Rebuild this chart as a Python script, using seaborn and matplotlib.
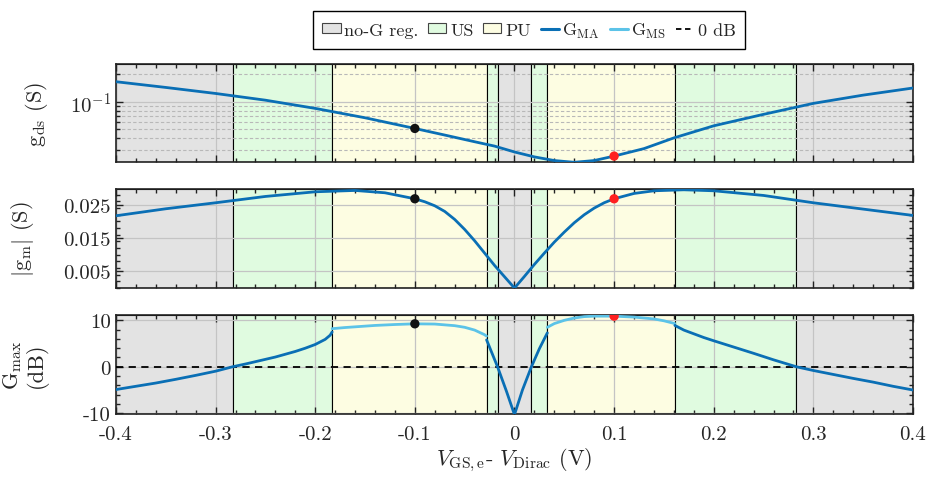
import numpy as np
import matplotlib
matplotlib.use("Agg")
import matplotlib.pyplot as plt
import seaborn as sns
from matplotlib.patches import Patch
from matplotlib.lines import Line2D
from matplotlib.ticker import MultipleLocator, LogLocator, NullFormatter

# Bias axis limits and region boundaries (V)
v_lim = [-0.4, 0.4]
region_edges = [-0.4, -0.283, -0.183, -0.028, -0.017, 0.017, 0.033, 0.161, 0.283, 0.4]
region_kind = ["no-G", "US", "PU", "US", "no-G", "US", "PU", "US", "no-G"]

# g_ds (S), log scale
v_gds = [-0.40, -0.35, -0.30, -0.25, -0.20, -0.15, -0.10, -0.07, -0.04, -0.02, 0.00,
         0.02, 0.04, 0.06, 0.08, 0.10, 0.13, 0.16, 0.20, 0.25, 0.30, 0.35, 0.40]
gds = [0.165, 0.143, 0.123, 0.104, 0.0847, 0.067, 0.0513, 0.0435, 0.0368, 0.0330, 0.0285,
       0.0252, 0.0230, 0.0220, 0.0230, 0.0257, 0.0310, 0.0405, 0.0548, 0.073, 0.096, 0.118, 0.141]

# |g_m| (S)
v_gm = [-0.40, -0.35, -0.30, -0.25, -0.20, -0.16, -0.13, -0.10, -0.09, -0.08, -0.07, -0.06, -0.05,
        -0.04, -0.03, -0.02, -0.01, 0.00, 0.01, 0.02, 0.03, 0.04, 0.05, 0.06, 0.07, 0.08, 0.09,
        0.10, 0.12, 0.14, 0.17, 0.20, 0.25, 0.30, 0.35, 0.40]
gm = [0.0217, 0.0238, 0.0256, 0.0275, 0.0289, 0.0293, 0.0286, 0.0268, 0.0259, 0.0247, 0.0230,
      0.0206, 0.0176, 0.0142, 0.0105, 0.0068, 0.0034, 0.0, 0.0035, 0.0071, 0.0105, 0.0138,
      0.0168, 0.0196, 0.0220, 0.0240, 0.0256, 0.0268, 0.0284, 0.0292, 0.0295, 0.0292, 0.0278,
      0.0256, 0.0237, 0.0218]

# G_max (dB), split into G_MA and G_MS segments
v_ma_left = [-0.40, -0.38, -0.36, -0.34, -0.32, -0.30, -0.283, -0.27, -0.26, -0.25, -0.24,
             -0.23, -0.22, -0.21, -0.20, -0.19, -0.185, -0.183]
g_ma_left = [-4.9, -4.2, -3.5, -2.7, -1.85, -0.95, 0.0, 0.6, 1.1, 1.6, 2.1,
             2.7, 3.3, 4.0, 4.8, 5.9, 6.8, 7.5]
v_ms_left = [-0.183, -0.17, -0.16, -0.14, -0.12, -0.10, -0.08, -0.06, -0.05, -0.04, -0.035, -0.03, -0.028]
g_ms_left = [8.2, 8.45, 8.6, 8.9, 9.1, 9.25, 9.2, 8.85, 8.5, 7.9, 7.4, 6.9, 6.6]
v_ma_mid = [-0.028, -0.017, -0.008, 0.0, 0.008, 0.017, 0.025, 0.033]
g_ma_mid = [5.8, 0.0, -5.3, -10.3, -5.0, 0.0, 3.9, 7.3]
v_ms_mid = [0.033, 0.04, 0.05, 0.06, 0.07, 0.08, 0.10, 0.12, 0.14, 0.15, 0.161]
g_ms_mid = [8.5, 9.3, 10.0, 10.5, 10.8, 10.9, 10.9, 10.7, 10.3, 9.9, 9.3]
v_ma_right = [0.161, 0.17, 0.18, 0.19, 0.20, 0.22, 0.24, 0.26, 0.283, 0.30, 0.32, 0.34, 0.36, 0.38, 0.40]
g_ma_right = [8.9, 7.9, 7.1, 6.3, 5.6, 4.25, 2.9, 1.5, 0.0, -0.8, -1.65, -2.5, -3.3, -4.2, -5.0]

# operating points
dot_v = [-0.10, 0.10]
dot_colors = ["#111111", "#ff2020"]

xtick_vals = [-0.4, -0.3, -0.2, -0.1, 0.0, 0.1, 0.2, 0.3, 0.4]
xtick_labels = ["-0.4", "-0.3", "-0.2", "-0.1", "0", "0.1", "0.2", "0.3", "0.4"]
gm_ticks = [0.005, 0.015, 0.025]
gm_tick_labels = ["0.005", "0.015", "0.025"]
gmax_ticks = [-10, 0, 10]
gmax_tick_labels = ["-10", "0", "10"]

region_colors = {"no-G": "#e3e3e3", "US": "#e0fbe0", "PU": "#fdfde2"}
c_ma = "#0a6fb5"
c_ms = "#5cc3e8"

sns.set_style("ticks")
plt.rcParams.update({
    "font.family": "serif",
    "font.serif": ["cmr10"],
    "mathtext.fontset": "cm",
    "axes.unicode_minus": False,
    "axes.formatter.use_mathtext": True,
})

fig = plt.figure(figsize=(9.3, 4.85), dpi=100)
ax1 = fig.add_axes([0.1247, 0.664, 0.857, 0.202])
ax2 = fig.add_axes([0.1247, 0.404, 0.857, 0.204])
ax3 = fig.add_axes([0.1247, 0.144, 0.857, 0.204])


def shade(ax):
    for i, kind in enumerate(region_kind):
        ax.axvspan(region_edges[i], region_edges[i + 1], facecolor=region_colors[kind],
                   edgecolor="black", lw=0.8, zorder=0.5)


def style(ax):
    ax.set_xlim(v_lim)
    ax.set_xticks(xtick_vals)
    ax.xaxis.set_minor_locator(MultipleLocator(0.02))
    ax.set_axisbelow("line")
    ax.grid(True, which="major", color="#c4c4c4", lw=0.9)
    ax.tick_params(direction="in", which="both", top=True, right=True, labelsize=15,
                   width=1.0, color="#222222")
    ax.tick_params(which="major", length=5)
    ax.tick_params(which="minor", length=3)
    ax.tick_params(axis="x", which="major", pad=8)
    for s in ax.spines.values():
        s.set_linewidth(1.2)
        s.set_color("#222222")


def line(ax, x, y, color):
    sns.lineplot(x=x, y=y, ax=ax, color=color, lw=2.0, zorder=3, sort=False)


# top: g_ds
ax1.set_yscale("log")
shade(ax1)
line(ax1, v_gds, gds, c_ma)
style(ax1)
ax1.set_ylim(0.0222, 0.257)
ax1.yaxis.set_major_locator(LogLocator(base=10))
ax1.yaxis.set_minor_locator(LogLocator(base=10, subs=np.arange(2, 10)))
ax1.yaxis.set_minor_formatter(NullFormatter())
ax1.grid(True, which="minor", axis="y", color="#b8b8b8", lw=0.8, ls=(0, (3, 2)))
ax1.set_xticklabels([])
ax1.set_ylabel(r"$\mathrm{g}_{\mathrm{ds}}$ (S)", fontsize=16)
ax1.yaxis.set_label_coords(-0.083, 0.5)
for v, c in zip(dot_v, dot_colors):
    sns.scatterplot(x=[v], y=[gds[v_gds.index(v)]], ax=ax1, color=c, s=45, zorder=5, edgecolor="none")

# middle: |g_m|
shade(ax2)
line(ax2, v_gm, gm, c_ma)
style(ax2)
ax2.set_ylim(0.0, 0.0297)
ax2.set_yticks(gm_ticks)
ax2.set_yticklabels(gm_tick_labels)
ax2.yaxis.set_minor_locator(MultipleLocator(0.002))
ax2.set_xticklabels([])
ax2.set_ylabel(r"$|\mathrm{g}_{\mathrm{m}}|$ (S)", fontsize=16)
ax2.yaxis.set_label_coords(-0.1, 0.5)
for v, c in zip(dot_v, dot_colors):
    sns.scatterplot(x=[v], y=[gm[v_gm.index(v)]], ax=ax2, color=c, s=45, zorder=5, edgecolor="none")

# bottom: G_max
shade(ax3)
for xs, ys, c in [(v_ma_left, g_ma_left, c_ma), (v_ms_left, g_ms_left, c_ms),
                  (v_ma_mid, g_ma_mid, c_ma), (v_ms_mid, g_ms_mid, c_ms),
                  (v_ma_right, g_ma_right, c_ma)]:
    line(ax3, xs, ys, c)
ax3.axhline(0, color="black", ls=(0, (4, 3)), lw=1.3, zorder=2.8)
style(ax3)
ax3.set_ylim(-10.2, 11.1)
ax3.set_yticks(gmax_ticks)
ax3.set_yticklabels(gmax_tick_labels)
ax3.yaxis.set_minor_locator(MultipleLocator(2))
ax3.set_xticklabels(xtick_labels)
ax3.set_ylabel(r"$\mathrm{G}_{\mathrm{max}}$" + "\n(dB)", fontsize=16, linespacing=1.1)
ax3.yaxis.set_label_coords(-0.085, 0.5)
ax3.set_xlabel(r"$V_{\mathrm{GS,e}}$- $V_{\mathrm{Dirac}}$ (V)", fontsize=16, labelpad=2)
dot_g = [g_ms_left[v_ms_left.index(dot_v[0])], g_ms_mid[v_ms_mid.index(dot_v[1])]]
for v, g, c in zip(dot_v, dot_g, dot_colors):
    sns.scatterplot(x=[v], y=[g], ax=ax3, color=c, s=45, zorder=5, edgecolor="none")

handles = [
    Patch(facecolor=region_colors["no-G"], edgecolor="#444444", lw=0.8),
    Patch(facecolor=region_colors["US"], edgecolor="#444444", lw=0.8),
    Patch(facecolor=region_colors["PU"], edgecolor="#444444", lw=0.8),
    Line2D([], [], color=c_ma, lw=2.2),
    Line2D([], [], color=c_ms, lw=2.2),
    Line2D([], [], color="black", lw=1.3, ls=(0, (3, 2))),
]
labels = ["no-G reg.", "US", "PU", r"$\mathrm{G}_{\mathrm{MA}}$", r"$\mathrm{G}_{\mathrm{MS}}$", "0 dB"]
fig.legend(handles, labels, loc="center", bbox_to_anchor=(0.569, 0.936), ncol=6,
           fontsize=13, frameon=True, fancybox=False, edgecolor="black", framealpha=1,
           handlelength=1.0, handleheight=0.5, handletextpad=0.2, columnspacing=0.55,
           borderpad=0.5)

plt.savefig("out.png", dpi=100)
